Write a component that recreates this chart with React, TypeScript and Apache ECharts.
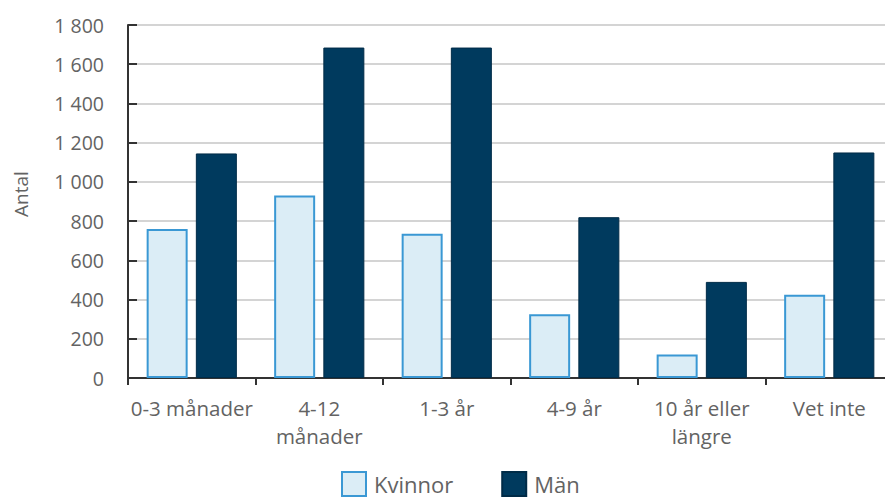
import React, { useEffect, useRef } from "react";
import * as echarts from "echarts";

const categories = ["0-3 månader", "4-12\nmånader", "1-3 år", "4-9 år", "10 år eller\nlängre", "Vet inte"];
const kvinnor = [760, 930, 735, 325, 120, 425];
const man = [1145, 1685, 1685, 820, 490, 1150];
const yMin = 0;
const yMax = 1800;
const yInterval = 200;
const yTitle = "Antal";

const fmt = (v: number) => String(v).replace(/\B(?=(\d{3})+(?!\d))/g, " ");

export default function App() {
  const ref = useRef<HTMLDivElement>(null);
  useEffect(() => {
    if (!ref.current) return;
    const chart = echarts.init(ref.current, null, { renderer: "svg" });
    const textColor = "#636363";
    const font = "'Open Sans', 'Noto Sans', sans-serif";
    chart.setOption({
      animation: false,
      textStyle: { fontFamily: font },
      grid: {
        left: 128,
        right: -8,
        top: 25,
        bottom: 121,
        containLabel: false,
        outerBoundsMode: "none",
      },
      graphic: [
        {
          type: "text",
          x: 21,
          y: 194,
          rotation: Math.PI / 2,
          style: {
            text: yTitle,
            fill: textColor,
            font: `19px ${font}`,
            align: "center",
            verticalAlign: "middle",
          },
        },
      ],
      legend: {
        left: 341,
        top: 471,
        padding: 0,
        icon: "rect",
        itemWidth: 24,
        itemHeight: 24,
        itemGap: 48,
        textStyle: {
          color: textColor,
          fontSize: 22,
          lineHeight: 20,
          fontFamily: font,
          padding: [0, 0, 0, 3],
        },
        data: ["Kvinnor", "Män"],
      },
      xAxis: {
        type: "category",
        data: categories,
        axisLine: { lineStyle: { color: "#333", width: 2 } },
        axisTick: { show: true, length: 7, lineStyle: { color: "#333", width: 2 } },
        axisLabel: {
          color: textColor,
          fontSize: 20.5,
          lineHeight: 28,
          margin: 16,
          fontFamily: font,
          interval: 0,
        },
      },
      yAxis: {
        type: "value",
        min: yMin,
        max: yMax,
        interval: yInterval,
        axisLine: { show: true, lineStyle: { color: "#333", width: 2 } },
        axisTick: { show: true, inside: true, length: 9, lineStyle: { color: "#333", width: 2 } },
        axisLabel: {
          color: textColor,
          fontSize: 19.5,
          margin: 24,
          fontFamily: font,
          formatter: (v: number) => fmt(v),
        },
        splitLine: { show: true, lineStyle: { color: "#d4d4d4", width: 2 } },
      },
      series: [
        {
          name: "Kvinnor",
          type: "bar",
          data: kvinnor,
          barWidth: 41,
          barGap: "20%",
          itemStyle: { color: "#dbedf6", borderColor: "#3a98d4", borderWidth: 2 },
        },
        {
          name: "Män",
          type: "bar",
          data: man,
          barWidth: 41,
          barGap: "20%",
          itemStyle: { color: "#003a5e", borderColor: "#002b47", borderWidth: 1 },
        },
      ],
    });
    return () => chart.dispose();
  }, []);
  return (
    <div
      ref={ref}
      style={{ position: "absolute", left: 0, top: 0, width: 885, height: 499, background: "#fff" }}
    />
  );
}
